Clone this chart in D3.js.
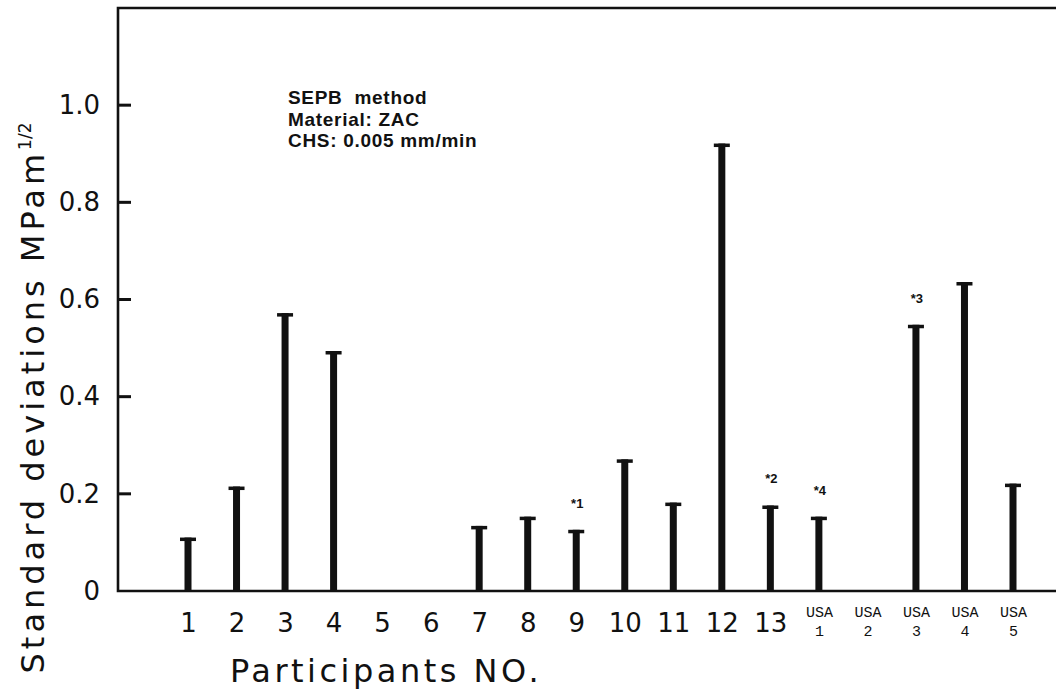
<!DOCTYPE html>
<html>
<head>
<meta charset="utf-8">
<script src="https://cdn.jsdelivr.net/npm/d3@7"></script>
<style>
  html, body { margin: 0; padding: 0; background: #fff; }
  svg { display: block; }
</style>
</head>
<body>
<svg id="chart" width="1056" height="694"></svg>
<script>
// Participants (labs) and their standard deviations of fracture toughness
const participants = ["1","2","3","4","5","6","7","8","9","10","11","12","13","USA 1","USA 2","USA 3","USA 4","USA 5"];
const stdDev = [0.110, 0.215, 0.572, 0.494, null, null, 0.134, 0.153, 0.126, 0.271, 0.182, 0.921, 0.176, 0.153, null, 0.548, 0.636, 0.221];
const footnotes = ["", "", "", "", "", "", "", "", "*1", "", "", "", "*2", "*4", "", "*3", "", ""];
const yTicks = [0, 0.2, 0.4, 0.6, 0.8, 1.0];
const noteLines = ["SEPB  method", "Material: ZAC", "CHS: 0.005 mm/min"];

const svg = d3.select("#chart");
const plotLeft = 118, plotRight = 1056, plotTop = 8, plotBottom = 591;

const x = d3.scalePoint().domain(participants).range([188, 1013]);
const y = d3.scaleLinear().domain([0, 1.2]).range([plotBottom, plotTop]);

const ink = "#111";

// Frame: left axis, top border, baseline
svg.append("path")
  .attr("d", `M${plotRight},${plotTop}H${plotLeft}V${plotBottom}H${plotRight}`)
  .attr("fill", "none").attr("stroke", ink).attr("stroke-width", 2.6);

// Y axis labels
const yAxis = d3.axisLeft(y).tickValues(yTicks)
  .tickSize(0).tickPadding(18)
  .tickFormat(d => d === 0 ? "0" : d3.format(".1f")(d));
const gy = svg.append("g").attr("transform", `translate(${plotLeft},0)`).call(yAxis);
gy.select(".domain").remove();
gy.selectAll(".tick line").remove();
gy.selectAll(".tick text")
  .attr("font-family", "'DejaVu Sans', sans-serif")
  .attr("font-size", 26).attr("fill", ink);

// Inward tick marks on the y axis
svg.append("g").selectAll("rect").data(yTicks.filter(d => d > 0)).join("rect")
  .attr("x", plotLeft).attr("width", 13)
  .attr("y", d => y(d) - 1.5).attr("height", 3)
  .attr("fill", ink);

// X axis labels (no ticks)
const xAxis = d3.axisBottom(x).tickSize(0).tickFormat("");
const gx = svg.append("g").attr("transform", `translate(0,${plotBottom})`).call(xAxis);
gx.select(".domain").remove();
gx.selectAll(".tick").each(function(d) {
  const t = d3.select(this);
  if (d.startsWith("USA")) {
    const [a, n] = d.split(" ");
    t.append("text").attr("y", 26).attr("text-anchor", "middle")
      .attr("font-family", "'Liberation Mono', 'DejaVu Sans Mono', monospace")
      .attr("font-size", 15).attr("fill", ink).text(a);
    t.append("text").attr("y", 45).attr("text-anchor", "middle")
      .attr("font-family", "'Liberation Mono', 'DejaVu Sans Mono', monospace")
      .attr("font-size", 15).attr("fill", ink).text(n);
  } else {
    t.append("text").attr("y", 41).attr("text-anchor", "middle")
      .attr("font-family", "'DejaVu Sans', sans-serif")
      .attr("font-size", 26).attr("fill", ink).text(d);
  }
});

// Bars with a T cap at the top
const data = participants.map((p, i) => ({ p, v: stdDev[i], note: footnotes[i] }))
  .filter(d => d.v !== null);
const barW = 7, capW = 16, capH = 3.5;
const bars = svg.append("g");
bars.selectAll("rect.bar").data(data).join("rect")
  .attr("class", "bar")
  .attr("x", d => x(d.p) - barW / 2).attr("width", barW)
  .attr("y", d => y(d.v)).attr("height", d => y(0) - y(d.v))
  .attr("fill", ink);
bars.selectAll("rect.cap").data(data).join("rect")
  .attr("class", "cap")
  .attr("x", d => x(d.p) - capW / 2).attr("width", capW)
  .attr("y", d => y(d.v)).attr("height", capH)
  .attr("fill", ink);

// Footnote markers above selected bars
bars.selectAll("text.note").data(data.filter(d => d.note)).join("text")
  .attr("class", "note")
  .attr("x", d => x(d.p) + 1).attr("y", d => y(d.v) - 22)
  .attr("text-anchor", "middle")
  .attr("font-family", "'Liberation Sans', Arial, sans-serif")
  .attr("font-weight", "bold").attr("font-size", 13).attr("fill", ink)
  .text(d => d.note);

// Test conditions block
svg.append("g").selectAll("text").data(noteLines).join("text")
  .attr("x", 288).attr("y", (d, i) => 104 + i * 21.5)
  .attr("font-family", "'Liberation Sans', Arial, sans-serif")
  .attr("font-weight", "bold").attr("font-size", 19).attr("fill", ink)
  .attr("letter-spacing", 0.7)
  .style("white-space", "pre")
  .text(d => d);

// Axis titles
const yt = svg.append("text")
  .attr("transform", "translate(44,398) rotate(-90)")
  .attr("text-anchor", "middle")
  .attr("font-family", "'DejaVu Sans', sans-serif")
  .attr("font-size", 32).attr("letter-spacing", 4).attr("fill", ink);
yt.append("tspan").text("Standard deviations MPam");
yt.append("tspan").attr("dy", -13).attr("font-size", 17).attr("letter-spacing", 0).text("1/2");

svg.append("text")
  .attr("x", 386).attr("y", 682).attr("text-anchor", "middle")
  .attr("font-family", "'DejaVu Sans', sans-serif")
  .attr("font-size", 32).attr("letter-spacing", 3.5).attr("fill", ink)
  .text("Participants NO.");
</script>
</body>
</html>
